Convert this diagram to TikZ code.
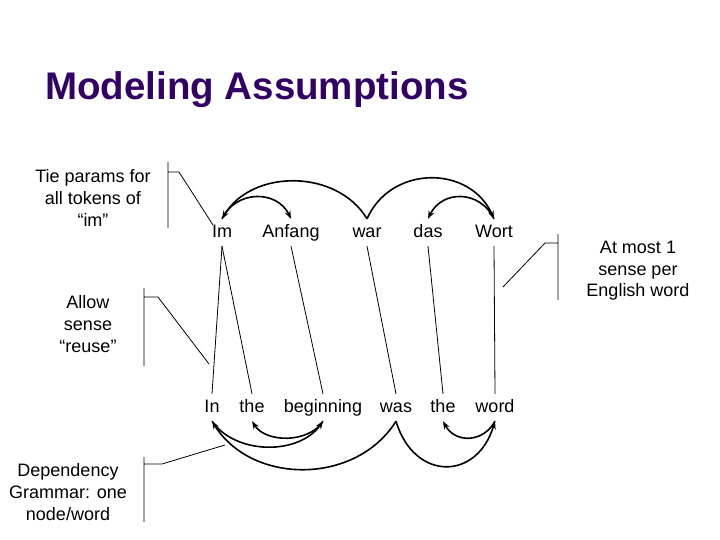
\documentclass[tikz,border=0pt]{standalone}
\usepackage{fontspec}
\setmainfont{Liberation Sans}
\usepackage{xcolor}
\definecolor{titlepurple}{RGB}{51,0,102}
\usepackage{tikz}
\usetikzlibrary{arrows.meta}
\newcommand{\notesize}{\fontsize{18}{21.6}\selectfont}
\newcommand{\titlesize}{\fontsize{38.5}{44}\selectfont}
\newcommand{\rowde}{232.5}
\newcommand{\rowen}{407.5}
\tikzset{
    word/.style={font=\notesize, text height=13pt, text depth=4pt, inner xsep=2pt, inner ysep=5pt},
    note/.style={font=\notesize, align=center, inner sep=0pt},
    link/.style={line width=0.8pt},
    callout/.style={line width=0.8pt},
    dep/.style={-{Stealth[length=8pt,width=6pt]}, line width=1.6pt}
}
\begin{document}
\begin{tikzpicture}[x=1pt, y=-1pt]
    \useasboundingbox (0,0) rectangle (720,540);

    \node[anchor=base west, inner sep=0pt, font=\titlesize\bfseries, text=titlepurple] (title) at (45,100) {Modeling Assumptions};

    % German sentence
    \path
        node[word] (Im) at (222,\rowde) {Im}
        node[word] (Anfang) at (291,\rowde) {Anfang}
        node[word] (war) at (367,\rowde) {war}
        node[word] (das) at (428,\rowde) {das}
        node[word] (Wort) at (494,\rowde) {Wort};

    % English sentence
    \path
        node[word] (In) at (212,\rowen) {In}
        node[word] (the1) at (252,\rowen) {the}
        node[word] (beginning) at (323,\rowen) {beginning}
        node[word] (was) at (396,\rowen) {was}
        node[word] (the2) at (443,\rowen) {the}
        node[word] (word) at (495,\rowen) {word};

    % alignments
    \draw[link] (Im.south) -- (In.north);
    \draw[link] (Im.south) -- (the1.north);
    \draw[link] (Anfang.south) -- (beginning.north);
    \draw[link] (war.south) -- (was.north);
    \draw[link] (das.south) -- (the2.north);
    \draw[link] (Wort.south) -- (word.north);

    % dependencies above
    \draw[dep] (war.north) .. controls +(-30,-50) and +(30,-50) .. (Im.north);
    \draw[dep] (Im.north) .. controls +(14,-29) and +(-14,-29) .. (Anfang.north);
    \draw[dep] (war.north) .. controls +(24,-54) and +(-24,-54) .. (Wort.north);
    \draw[dep] (Wort.north) .. controls +(-14,-29) and +(14,-29) .. (das.north);

    % dependencies below
    \draw[dep] (was.south) .. controls +(-40,64) and +(40,64) .. (In.south);
    \draw[dep] (In.south) .. controls +(24,34) and +(-24,34) .. (beginning.south);
    \draw[dep] (beginning.south) .. controls +(-14,22) and +(14,22) .. (the1.south);
    \draw[dep] (was.south) .. controls +(18,60) and +(-18,60) .. (word.south);
    \draw[dep] (word.south) .. controls +(-12,22) and +(12,22) .. (the2.south);

    % notes
    \node[note] (tie) at (93,198) {Tie params for\\all tokens of\\“im”};
    \node[note] (reuse) at (88,324) {Allow\\sense\\“reuse”};
    \node[note] (grammar) at (68,492) {Dependency\\Grammar: one\\node/word};
    \node[note] (atmost) at (638,271) {At most 1\\sense per\\English word};

    \coordinate (tie end) at (213,225);
    \coordinate (reuse end) at (209,364);
    \coordinate (grammar end) at (225,445);
    \coordinate (atmost end) at (503,287);

    \draw[callout] (168,162) -- (168,228) (168,172) -- (179,172) -- (tie end);
    \draw[callout] (144,288) -- (144,366) (144,297) -- (158,297) -- (reuse end);
    \draw[callout] (144,457) -- (144,522) (144,464) -- (162,464) -- (grammar end);
    \draw[callout] (558,234) -- (558,300) (558,243) -- (545,243) -- (atmost end);
\end{tikzpicture}
\end{document}
